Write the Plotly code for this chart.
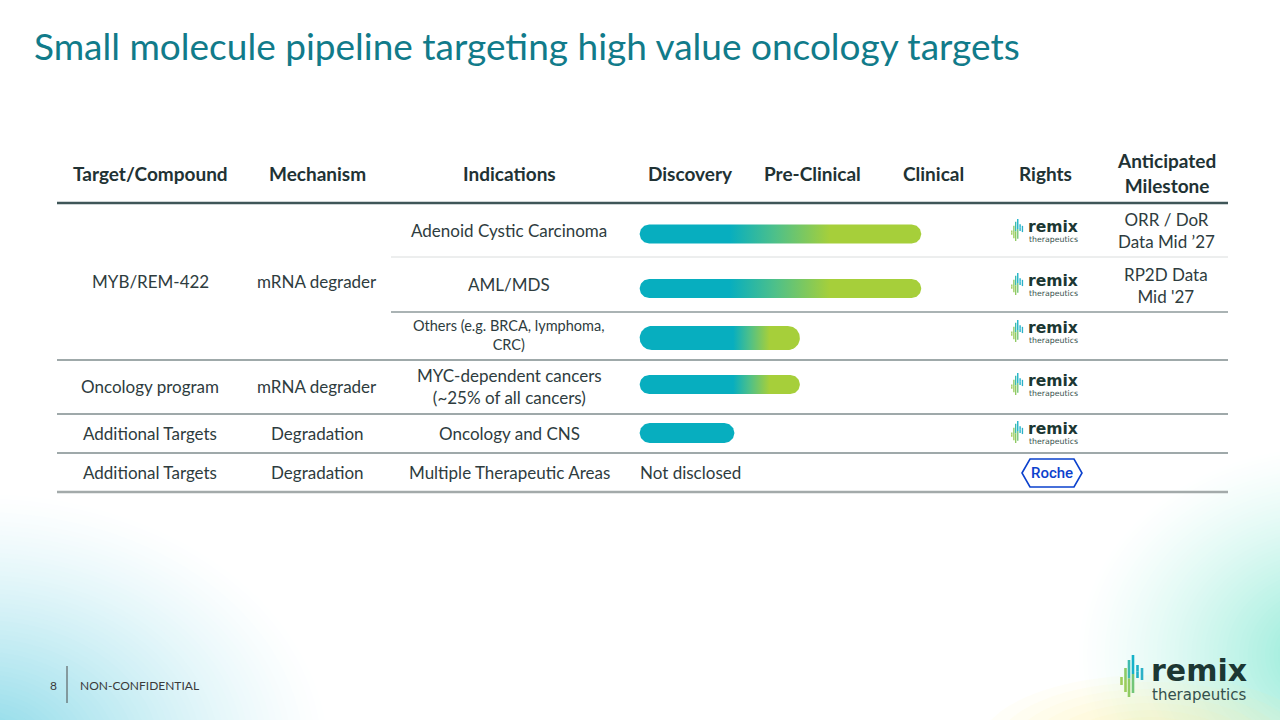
import numpy as np
import plotly.graph_objects as go

W, H = 1280, 720

# ---------------- data ----------------
TITLE = "Small molecule pipeline targeting high value oncology targets"
HEADERS = ["Target/Compound", "Mechanism", "Indications", "Rights", "Anticipated<br>Milestone"]
STAGES = ["Discovery", "Pre-Clinical", "Clinical"]

TARGETS = ["MYB/REM-422", "Oncology program", "Additional Targets", "Additional Targets"]
MECHANISMS = ["mRNA degrader", "mRNA degrader", "Degradation", "Degradation"]
TARGET_ROWS = [[0, 1, 2], [3], [4], [5]]

INDICATIONS = ["Adenoid Cystic Carcinoma", "AML/MDS", "Others (e.g. BRCA, lymphoma,<br>CRC)",
               "MYC-dependent cancers<br>(~25% of all cancers)", "Oncology and CNS",
               "Multiple Therapeutic Areas"]
PROGRESS_START = [0.08, 0.08, 0.08, 0.08, 0.08, None]   # in stage units (0 = start of Discovery)
PROGRESS_END = [2.40, 2.40, 1.40, 1.40, 0.86, None]
STATUS_TEXT = [None, None, None, None, None, "Not disclosed"]
RIGHTS = ["remix", "remix", "remix", "remix", "remix", "roche"]
MILESTONES = ["ORR / DoR<br>Data Mid \u201927", "RP2D Data<br>Mid '27", "", "", "", ""]

# ---------------- layout / style ----------------
FONT = "Lato"
TXT = "#2E3C3E"
HDR = "#213234"
TEAL_TITLE = "#117B8A"
TEAL = "#07AEBF"
GREEN = "#A6CF3A"

COL_X = [150, 317, 509, 1045, 1166]
HEADER_Y = 173
ROW_Y = [230, 284.5, 335, 386, 433.5, 472.5]
BAR_Y = [234, 288.5, 338, 384.5, 433]
BAR_H = [19, 19, 24, 19, 20]
GRAD_FROM = [0.82, 0.82, 0.85, 0.85, None]
GRAD_TO = [1.65, 1.65, 1.15, 1.15, None]
LOGO_Y = [230, 284, 331, 384, 432, 473]
STAGE_X0, STAGE_X1 = 630, 994
UNIT = (STAGE_X1 - STAGE_X0) / len(STAGES)
BODY = 17
HEAD = 19

fig = go.Figure()
shapes = []
ann = []

# dummy trace to anchor pixel subplot
fig.add_trace(go.Scatter(x=[0], y=[0], mode="markers", marker=dict(opacity=0), hoverinfo="skip",
                         showlegend=False))


# ---------------- background glows (opaque rings, blended towards white) ----------------
def glow_opaque(cx, cy, rx, ry, rgb, strength, n=60, gamma=1.6):
    for i in range(n, 0, -1):
        f = i / n
        t = strength * (1 - f) ** gamma
        col = [int(round(255 * (1 - t) + c * t)) for c in rgb]
        shapes.append(dict(type="circle", xref="x", yref="y", x0=cx - rx * f, x1=cx + rx * f,
                           y0=cy - ry * f, y1=cy + ry * f, line=dict(width=0),
                           fillcolor=f"rgb({col[0]},{col[1]},{col[2]})", layer="below"))


def glow_alpha(cx, cy, rx, ry, rgb, n, alpha):
    for i in range(n, 0, -1):
        f = i / n
        shapes.append(dict(type="circle", xref="x", yref="y", x0=cx - rx * f, x1=cx + rx * f,
                           y0=cy - ry * f, y1=cy + ry * f, line=dict(width=0),
                           fillcolor=f"rgba({rgb[0]},{rgb[1]},{rgb[2]},{alpha})", layer="below"))


glow_opaque(-20, 755, 360, 270, (100, 205, 224), 0.8, gamma=1.35)
glow_opaque(1330, 655, 260, 215, (120, 230, 206), 0.85, gamma=1.35)
glow_alpha(1150, 745, 170, 70, (252, 236, 160), 10, 0.07)

# ---------------- title ----------------
ann.append(dict(x=32, y=45, xref="x", yref="y", text=TITLE, showarrow=False, xanchor="left",
                yanchor="middle", font=dict(family=FONT, size=37, color=TEAL_TITLE)))

# ---------------- headers ----------------
for i, h in enumerate(HEADERS):
    ann.append(dict(x=COL_X[i], y=HEADER_Y, xref="x", yref="y", text=h, showarrow=False,
                    xanchor="center", yanchor="middle",
                    font=dict(family=FONT, size=HEAD, color=HDR, weight="bold")))
for j, s in enumerate(STAGES):
    ann.append(dict(x=j + 0.5, y=HEADER_Y, xref="x2", yref="y", text=s, showarrow=False,
                    xanchor="center", yanchor="middle",
                    font=dict(family=FONT, size=HEAD, color=HDR, weight="bold")))

# ---------------- separator lines ----------------
LINES = [
    (203, 57, 1228, "#3F5658", 2.5),
    (257, 391, 1228, "#DADDDD", 1),
    (312, 391, 1228, "#8E9A9B", 1.5),
    (360, 57, 1228, "#7F8D8E", 1.5),
    (414, 57, 1228, "#7F8D8E", 1.5),
    (453, 57, 1228, "#7F8D8E", 1.5),
    (492, 57, 1228, "#A3AAAA", 2.5),
]
for y, x0, x1, c, w in LINES:
    shapes.append(dict(type="line", xref="x", yref="y", x0=x0, x1=x1, y0=y, y1=y,
                       line=dict(color=c, width=w)))

# ---------------- program / mechanism ----------------
for k, rows in enumerate(TARGET_ROWS):
    if len(rows) > 1:
        yc = (203 + 360) / 2
    else:
        yc = ROW_Y[rows[0]]
    ann.append(dict(x=COL_X[0], y=yc, xref="x", yref="y", text=TARGETS[k], showarrow=False,
                    font=dict(family=FONT, size=BODY, color=TXT)))
    ann.append(dict(x=COL_X[1], y=yc, xref="x", yref="y", text=MECHANISMS[k], showarrow=False,
                    font=dict(family=FONT, size=BODY, color=TXT)))

# ---------------- indications ----------------
for i, t in enumerate(INDICATIONS):
    size = 14.5 if i == 2 else BODY
    ann.append(dict(x=COL_X[2], y=ROW_Y[i], xref="x", yref="y", text=t, showarrow=False,
                    font=dict(family=FONT, size=size, color=TXT)))
    if STATUS_TEXT[i]:
        ann.append(dict(x=0.07, y=ROW_Y[i], xref="x2", yref="y", text=STATUS_TEXT[i], showarrow=False,
                        xanchor="left", font=dict(family=FONT, size=BODY, color=TXT)))
    if MILESTONES[i]:
        ann.append(dict(x=COL_X[4], y=ROW_Y[i] + 0.5, xref="x", yref="y", text=MILESTONES[i],
                        showarrow=False, font=dict(family=FONT, size=BODY, color=TXT)))

# ---------------- progress bars ----------------
for i in range(len(INDICATIONS)):
    if PROGRESS_START[i] is None:
        continue
    x0, x1 = PROGRESS_START[i], PROGRESS_END[i]
    yc, h = BAR_Y[i], BAR_H[i] / 2
    rx = h / UNIT
    t1 = np.linspace(-np.pi / 2, np.pi / 2, 30)
    t2 = np.linspace(np.pi / 2, 3 * np.pi / 2, 30)
    xs = np.concatenate([(x1 - rx) + rx * np.cos(t1), (x0 + rx) + rx * np.cos(t2)])
    ys = np.concatenate([yc + h * np.sin(t1), yc + h * np.sin(t2)])
    xs = np.append(xs, xs[0])
    ys = np.append(ys, ys[0])
    kw = {}
    if GRAD_FROM[i] is not None:
        kw["fillgradient"] = dict(type="horizontal",
                                  colorscale=[[0, TEAL], [0.45, "#4DC08A"], [1, GREEN]],
                                  start=GRAD_FROM[i], stop=GRAD_TO[i])
    else:
        kw["fillcolor"] = TEAL
    fig.add_trace(go.Scatter(x=xs, y=ys, xaxis="x2", yaxis="y", mode="lines",
                             line=dict(width=0, color=TEAL), fill="toself", hoverinfo="skip",
                             showlegend=False, **kw))

# ---------------- logos ----------------
ICON = [  # dx, top, bottom, color top, color bottom  (in large-logo pixels)
    (1.5, 1, 9, "#9DCC5A", "#9DCC5A"),
    (5.5, -8, 16, "#8ACB68", "#9ACD5C"),
    (9.0, -16, 21, "#3CBBAE", "#90CB62"),
    (13.0, -21, 17, "#16B2C8", "#72C678"),
    (17.5, -11, 2, "#1DB1C9", "#1DB1C9"),
    (22.0, -8, 4, "#2AB0C7", "#2AB0C7"),
]


def remix_logo(ox, oy, s):
    for dx, top, bot, ct, cb in ICON:
        mid = (top + bot) / 2
        shapes.append(dict(type="line", xref="x", yref="y", x0=ox + dx * s, x1=ox + dx * s,
                           y0=oy + top * s, y1=oy + mid * s, line=dict(color=ct, width=2.6 * s)))
        shapes.append(dict(type="line", xref="x", yref="y", x0=ox + dx * s, x1=ox + dx * s,
                           y0=oy + mid * s, y1=oy + bot * s, line=dict(color=cb, width=2.6 * s)))
    ann.append(dict(x=ox + 29 * s, y=oy - 6 * s, xref="x", yref="y", text="remix", showarrow=False,
                    xanchor="left", yanchor="middle",
                    font=dict(family="DejaVu Sans", size=30 * s, color="#1C3733", weight="bold")))
    ann.append(dict(x=ox + 30 * s, y=oy + 19 * s, xref="x", yref="y", text="therapeutics",
                    showarrow=False, xanchor="left", yanchor="middle",
                    font=dict(family="DejaVu Sans", size=15 * s, color="#34504C")))


def roche_logo(cx, cy):
    w, hh, p = 30, 14, 8
    path = (f"M {cx - w},{cy} L {cx - w + p},{cy - hh} L {cx + w - p},{cy - hh} L {cx + w},{cy} "
            f"L {cx + w - p},{cy + hh} L {cx - w + p},{cy + hh} Z")
    shapes.append(dict(type="path", xref="x", yref="y", path=path,
                       line=dict(color="#0B41CD", width=1.6)))
    ann.append(dict(x=cx, y=cy, xref="x", yref="y", text="Roche", showarrow=False,
                    font=dict(family="Roboto", size=15, color="#0B41CD", weight=500)))


for i, r in enumerate(RIGHTS):
    if r == "remix":
        remix_logo(1011, LOGO_Y[i], 0.52)
    else:
        roche_logo(1052, LOGO_Y[i])

remix_logo(1120, 676, 1.0)

# ---------------- footer ----------------
ann.append(dict(x=53, y=685, xref="x", yref="y", text="8", showarrow=False,
                font=dict(family=FONT, size=12, color="#3A3A3A")))
shapes.append(dict(type="line", xref="x", yref="y", x0=67, x1=67, y0=666, y1=703,
                   line=dict(color="#4A4A4A", width=1)))
ann.append(dict(x=78, y=685, xref="x", yref="y", text="NON-CONFIDENTIAL", showarrow=False,
                xanchor="left", font=dict(family=FONT, size=12, color="#3A3A3A")))

fig.update_layout(
    width=W, height=H, margin=dict(l=0, r=0, t=0, b=0),
    paper_bgcolor="white", plot_bgcolor="rgba(0,0,0,0)", showlegend=False,
    xaxis=dict(range=[0, W], domain=[0, 1], visible=False, fixedrange=True),
    yaxis=dict(range=[H, 0], domain=[0, 1], visible=False, fixedrange=True),
    xaxis2=dict(range=[0, len(STAGES)], domain=[STAGE_X0 / W, STAGE_X1 / W], anchor="y",
                visible=False, fixedrange=True),
    shapes=shapes, annotations=ann,
)

fig.write_html("out.html", config={"displayModeBar": False},
               post_script="document.body.style.margin='0';document.body.style.overflow='hidden';")
